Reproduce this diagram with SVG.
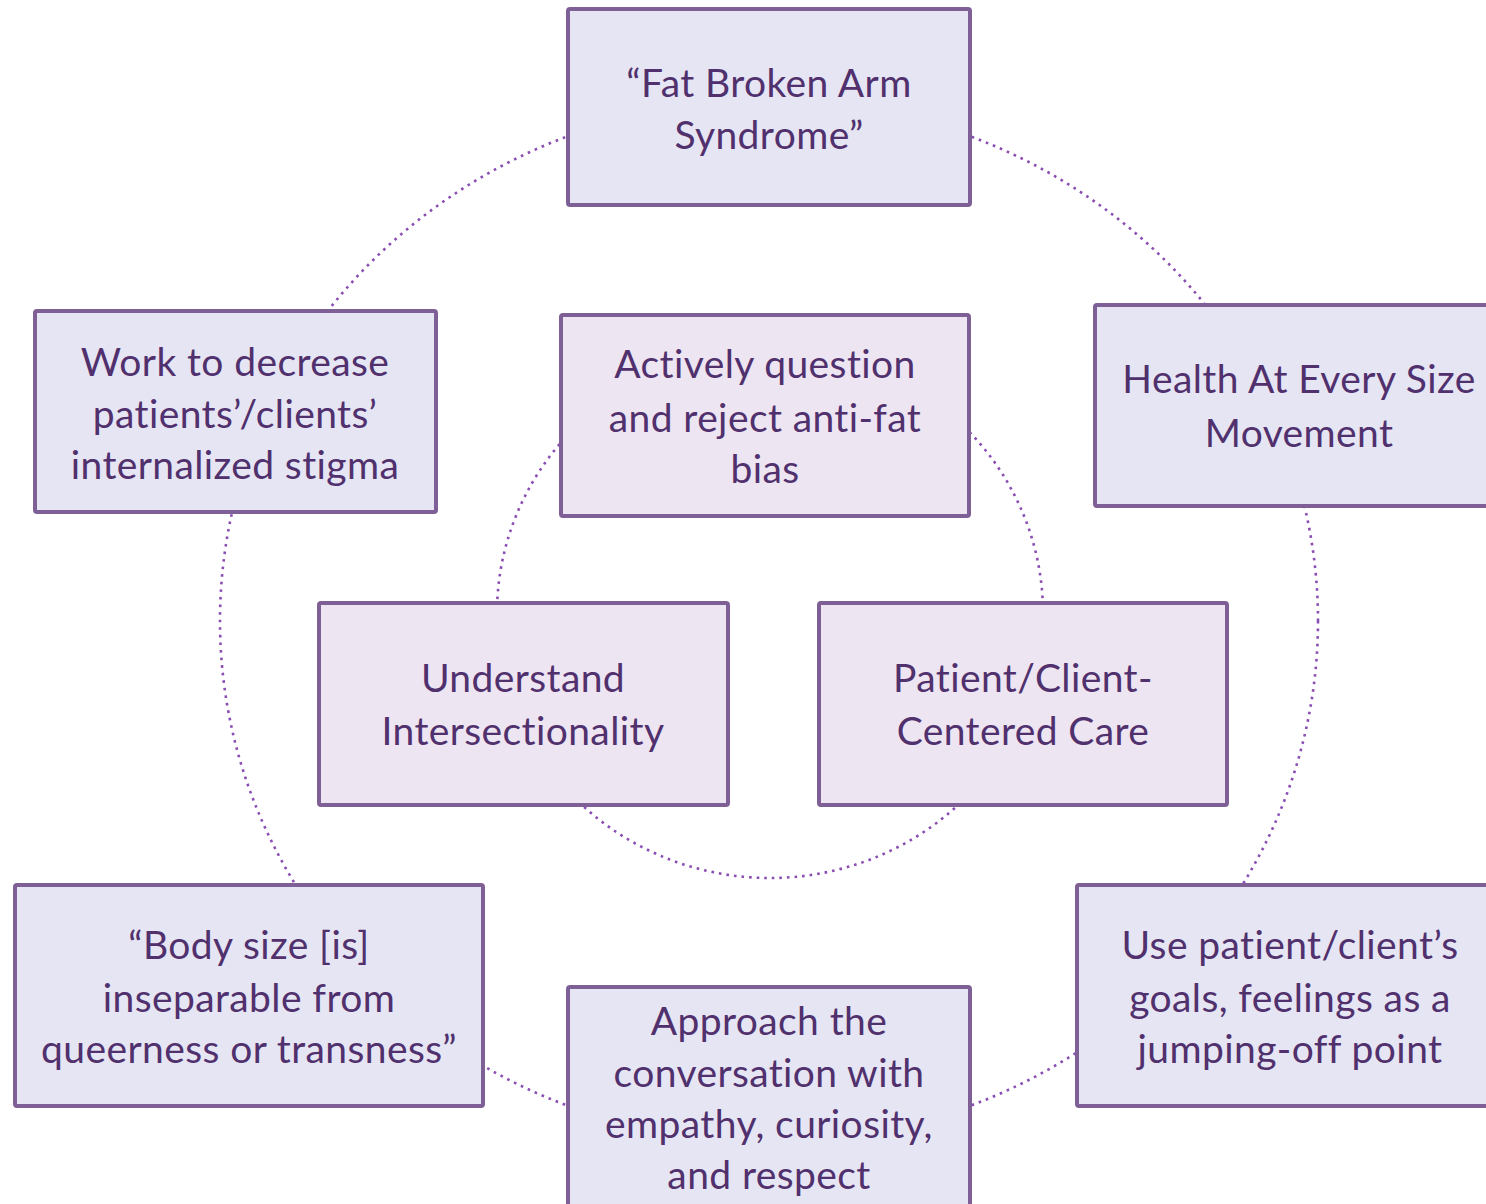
<svg xmlns="http://www.w3.org/2000/svg" width="1486" height="1204" viewBox="0 0 1486 1204">
<style>
.ring{fill:none;stroke:#8A4DB3;stroke-width:2.6;stroke-dasharray:2.6 5;}
.outer{fill:#E6E5F3;stroke:#7E6096;stroke-width:4;}
.inner{fill:#EDE5F2;stroke:#7E6096;stroke-width:4;}
text{font-family:Lato,"Open Sans",sans-serif;font-size:39px;letter-spacing:0.4px;fill:#50306D;text-anchor:middle;}
</style>
<rect width="1486" height="1204" fill="#FFFFFF"/>
<g id="connectors">
<ellipse class="ring" cx="769" cy="621" rx="549" ry="521"/>
<ellipse class="ring" cx="770" cy="613" rx="273" ry="265"/>
</g>
<g id="n-fat-broken-arm">
<rect class="outer" x="568" y="9" width="402" height="196" rx="2"/>
<text x="769" y="97">“Fat Broken Arm</text>
<text x="769" y="149">Syndrome”</text>
</g>
<g id="n-haes">
<rect class="outer" x="1095" y="305" width="410" height="201" rx="2"/>
<text x="1299" y="393">Health At Every Size</text>
<text x="1299" y="447">Movement</text>
</g>
<g id="n-internalized">
<rect class="outer" x="35" y="311" width="401" height="201" rx="2"/>
<text x="235" y="376">Work to decrease</text>
<text x="235" y="428">patients’/clients’</text>
<text x="235" y="479">internalized stigma</text>
</g>
<g id="n-body-size">
<rect class="outer" x="15" y="885" width="468" height="221" rx="2"/>
<text x="249" y="959">“Body size [is]</text>
<text x="249" y="1012">inseparable from</text>
<text x="249" y="1063">queerness or transness”</text>
</g>
<g id="n-goals">
<rect class="outer" x="1077" y="885" width="470" height="221" rx="2"/>
<text x="1290" y="959">Use patient/client’s</text>
<text x="1290" y="1012">goals, feelings as a</text>
<text x="1290" y="1063">jumping-off point</text>
</g>
<g id="n-approach">
<rect class="outer" x="568" y="987" width="402" height="240" rx="2"/>
<text x="769" y="1035">Approach the</text>
<text x="769" y="1087">conversation with</text>
<text x="769" y="1138">empathy, curiosity,</text>
<text x="769" y="1189">and respect</text>
</g>
<g id="n-question-bias">
<rect class="inner" x="561" y="315" width="408" height="201" rx="2"/>
<text x="765" y="378">Actively question</text>
<text x="765" y="432">and reject anti-fat</text>
<text x="765" y="483">bias</text>
</g>
<g id="n-intersectionality">
<rect class="inner" x="319" y="603" width="409" height="202" rx="2"/>
<text x="523" y="692">Understand</text>
<text x="523" y="745">Intersectionality</text>
</g>
<g id="n-centered-care">
<rect class="inner" x="819" y="603" width="408" height="202" rx="2"/>
<text x="1023" y="692">Patient/Client-</text>
<text x="1023" y="745">Centered Care</text>
</g>
</svg>
